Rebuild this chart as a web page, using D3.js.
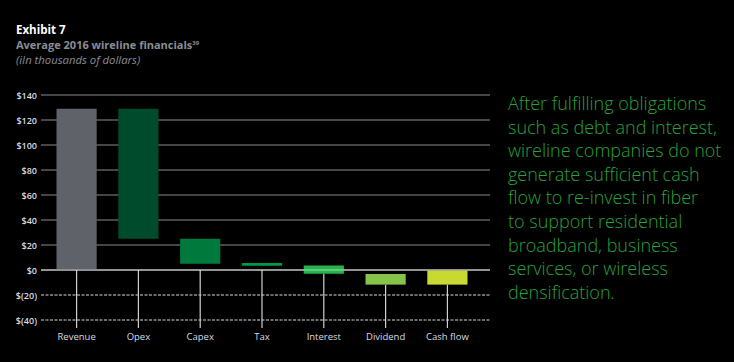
<!DOCTYPE html>
<html>
<head>
<meta charset="utf-8">
<script src="https://cdn.jsdelivr.net/npm/d3@7"></script>
<style>
  body { margin: 0; background: #000; }
  svg { display: block; font-family: "Open Sans", sans-serif; }
</style>
</head>
<body>
<script>
// waterfall pieces: each bar runs from start to end (thousands of dollars)
var categories = ['Revenue', 'Opex', 'Capex', 'Tax', 'Interest', 'Dividend', 'Cash flow'];
var starts = [0, 129, 25, 5.6, 3.6, -3.2, -0.5];
var ends = [129, 25, 5, 3.4, -3, -11.7, -11.7];
var colors = ['#5f6268', '#004b2b', '#007a3c', '#009a44', '#27b34b', '#86c34a', '#c8da32'];
var yTicks = [140, 120, 100, 80, 60, 40, 20, 0, -20, -40];

var note = ['After fulfilling obligations', 'such as debt and interest,', 'wireline companies do not',
  'generate sufficient cash', 'flow to re-invest in fiber', 'to support residential',
  'broadband, business', 'services, or wireless', 'densification.'];

var width = 734, height = 362;

var svg = d3.select('body').append('svg')
  .attr('width', width)
  .attr('height', height);

svg.append('rect').attr('width', width).attr('height', height).attr('fill', '#000');

// titles
svg.append('text').attr('x', 16).attr('y', 34)
  .attr('fill', '#fff').attr('font-size', 11.5).attr('font-weight', 700)
  .text('Exhibit 7');
var sub = svg.append('text').attr('x', 16).attr('y', 49)
  .attr('fill', '#8a8d93').attr('font-size', 11).attr('font-weight', 700)
  .text('Average 2016 wireline financials');
sub.append('tspan').attr('font-size', 6).attr('dy', -4).text('39');
svg.append('text').attr('x', 16).attr('y', 64)
  .attr('fill', '#8a8d93').attr('font-size', 11.3).attr('font-style', 'italic')
  .text('(iIn thousands of dollars)');

var x = d3.scaleBand().domain(categories).range([46, 478]).paddingInner(0.35).paddingOuter(0.17);
var y = d3.scaleLinear().domain([-40, 140]).range([320, 95]);

var data = categories.map(function(c, i) {
  return {name: c, start: starts[i], end: ends[i], color: colors[i]};
});

// gridlines
svg.selectAll('line.grid').data(yTicks).enter().append('line')
  .attr('class', 'grid')
  .attr('x1', 41).attr('x2', 490)
  .attr('y1', function(d) { return y(d); })
  .attr('y2', function(d) { return y(d); })
  .attr('stroke', function(d) { return d > 0 ? '#8c8c8c' : '#d8d8d8'; })
  .attr('stroke-width', 1)
  .attr('stroke-dasharray', function(d) { return d < 0 ? '3,1.5' : null; });

// y labels
svg.selectAll('text.ylab').data(yTicks).enter().append('text')
  .attr('class', 'ylab')
  .attr('x', 37)
  .attr('y', function(d) { return y(d) + 3.5; })
  .attr('text-anchor', 'end')
  .attr('fill', '#d6dce4')
  .attr('font-size', 9)
  .attr('font-weight', 600)
  .text(function(d) { return d < 0 ? '$(' + (-d) + ')' : '$' + d; });

// drop lines from bar bottoms
svg.selectAll('line.drop').data(data).enter().append('line')
  .attr('class', 'drop')
  .attr('x1', function(d) { return x(d.name) + x.bandwidth() / 2; })
  .attr('x2', function(d) { return x(d.name) + x.bandwidth() / 2; })
  .attr('y1', function(d) { return y(Math.min(0, d.start, d.end)); })
  .attr('y2', 328)
  .attr('stroke', '#d0d0d0')
  .attr('stroke-width', 1.2);

// bars
svg.selectAll('rect.bar').data(data).enter().append('rect')
  .attr('class', 'bar')
  .attr('x', function(d) { return x(d.name); })
  .attr('width', x.bandwidth())
  .attr('y', function(d) { return y(Math.max(d.start, d.end)); })
  .attr('height', function(d) { return Math.abs(y(d.start) - y(d.end)); })
  .attr('fill', function(d) { return d.color; });

// zero line over the bars
svg.append('line')
  .attr('x1', 41).attr('x2', 490)
  .attr('y1', y(0)).attr('y2', y(0))
  .attr('stroke', '#fff').attr('stroke-opacity', 0.55).attr('stroke-width', 1);

// category labels
svg.selectAll('text.xlab').data(data).enter().append('text')
  .attr('class', 'xlab')
  .attr('x', function(d) { return x(d.name) + x.bandwidth() / 2; })
  .attr('y', 340)
  .attr('text-anchor', 'middle')
  .attr('fill', '#d6dce4')
  .attr('font-size', 9.5)
  .text(function(d) { return d.name; });

// side note
svg.selectAll('text.note').data(note).enter().append('text')
  .attr('class', 'note')
  .attr('x', 508)
  .attr('y', function(d, i) { return 110 + i * 23.6; })
  .attr('fill', '#27a23a')
  .attr('font-size', 18)
  .attr('font-weight', 300)
  .text(function(d) { return d; });
</script>
</body>
</html>
